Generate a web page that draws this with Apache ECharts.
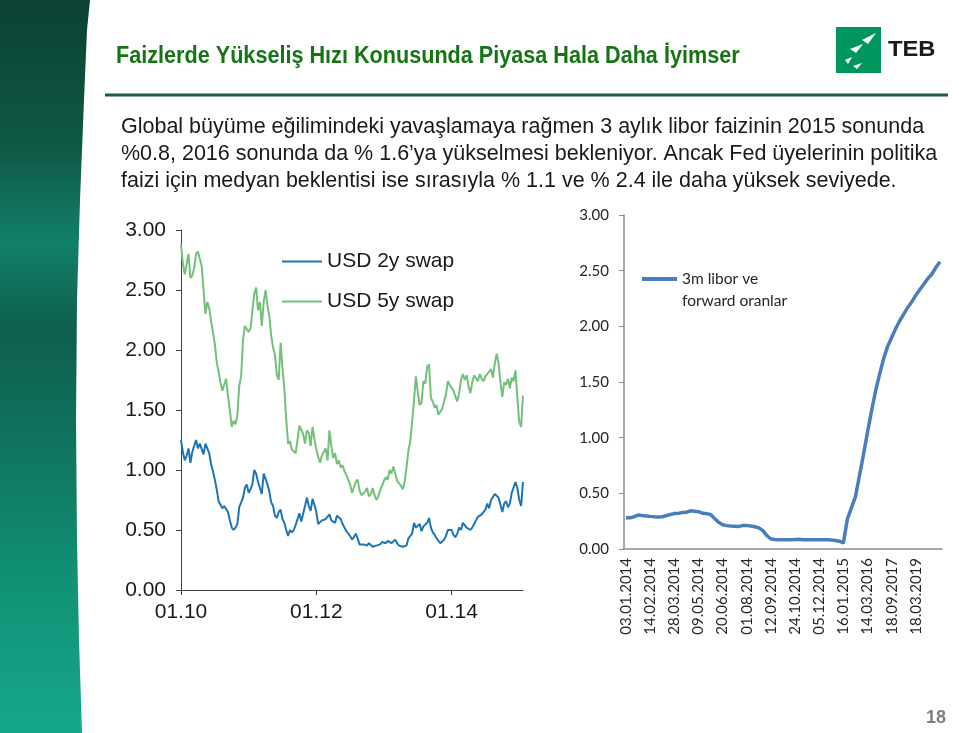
<!DOCTYPE html>
<html>
<head>
<meta charset="utf-8">
<style>
html,body{margin:0;padding:0;background:#fff;}
#chart{width:959px;height:733px;}
</style>
<script src="https://cdn.jsdelivr.net/npm/echarts@6/dist/echarts.min.js"></script>
</head>
<body>
<div id="chart"></div>
<script>
// ---------- DATA ----------
var titleText = 'Faizlerde Yükseliş Hızı Konusunda Piyasa Hala Daha İyimser';
var bodyLines = [
  'Global büyüme eğilimindeki yavaşlamaya rağmen 3 aylık libor faizinin 2015 sonunda',
  '%0.8, 2016 sonunda da % 1.6’ya yükselmesi bekleniyor. Ancak Fed üyelerinin politika',
  'faizi için medyan beklentisi ise sırasıyla % 1.1 ve % 2.4 ile daha yüksek seviyede.'
];
var pageNumber = '18';

// Left chart: USD swap rates (dekad observations)
var swapDates = [
'01.01.2010','11.01.2010','21.01.2010','01.02.2010','11.02.2010','21.02.2010','01.03.2010','11.03.2010','21.03.2010','01.04.2010','11.04.2010','21.04.2010','01.05.2010','11.05.2010','21.05.2010','01.06.2010','11.06.2010','21.06.2010','01.07.2010','11.07.2010','21.07.2010','01.08.2010','11.08.2010','21.08.2010','01.09.2010','11.09.2010','21.09.2010','01.10.2010','11.10.2010','21.10.2010','01.11.2010','11.11.2010','21.11.2010','01.12.2010','11.12.2010','21.12.2010',
'01.01.2011','11.01.2011','21.01.2011','01.02.2011','11.02.2011','21.02.2011','01.03.2011','11.03.2011','21.03.2011','01.04.2011','11.04.2011','21.04.2011','01.05.2011','11.05.2011','21.05.2011','01.06.2011','11.06.2011','21.06.2011','01.07.2011','11.07.2011','21.07.2011','01.08.2011','11.08.2011','21.08.2011','01.09.2011','11.09.2011','21.09.2011','01.10.2011','11.10.2011','21.10.2011','01.11.2011','11.11.2011','21.11.2011','01.12.2011','11.12.2011','21.12.2011',
'01.01.2012','11.01.2012','21.01.2012','01.02.2012','11.02.2012','21.02.2012','01.03.2012','11.03.2012','21.03.2012','01.04.2012','11.04.2012','21.04.2012','01.05.2012','11.05.2012','21.05.2012','01.06.2012','11.06.2012','21.06.2012','01.07.2012','11.07.2012','21.07.2012','01.08.2012','11.08.2012','21.08.2012','01.09.2012','11.09.2012','21.09.2012','01.10.2012','11.10.2012','21.10.2012','01.11.2012','11.11.2012','21.11.2012','01.12.2012','11.12.2012','21.12.2012',
'01.01.2013','11.01.2013','21.01.2013','01.02.2013','11.02.2013','21.02.2013','01.03.2013','11.03.2013','21.03.2013','01.04.2013','11.04.2013','21.04.2013','01.05.2013','11.05.2013','21.05.2013','01.06.2013','11.06.2013','21.06.2013','01.07.2013','11.07.2013','21.07.2013','01.08.2013','11.08.2013','21.08.2013','01.09.2013','11.09.2013','21.09.2013','01.10.2013','11.10.2013','21.10.2013','01.11.2013','11.11.2013','21.11.2013','01.12.2013','11.12.2013','21.12.2013',
'01.01.2014','11.01.2014','21.01.2014','01.02.2014','11.02.2014','21.02.2014','01.03.2014','11.03.2014','21.03.2014','01.04.2014','11.04.2014','21.04.2014','01.05.2014','11.05.2014','21.05.2014','01.06.2014','11.06.2014','21.06.2014','01.07.2014','11.07.2014','21.07.2014','01.08.2014','11.08.2014','21.08.2014','01.09.2014','11.09.2014','21.09.2014','01.10.2014','11.10.2014','21.10.2014','01.11.2014','11.11.2014','21.11.2014','01.12.2014','11.12.2014','21.12.2014',
'01.01.2015','11.01.2015','21.01.2015'
];
var swap2y = [
1.25,1.15,1.08,1.12,1.18,1.06,1.15,1.20,1.25,1.18,
1.22,1.21,1.13,1.22,1.22,1.14,1.05,0.99,0.92,0.84,
0.74,0.71,0.68,0.70,0.71,0.65,0.58,0.52,0.50,0.52,
0.55,0.69,0.70,0.77,0.85,0.88,0.81,0.84,0.88,1.00,
0.97,0.90,0.85,0.80,0.97,0.96,0.88,0.82,0.73,0.70,
0.62,0.60,0.65,0.67,0.59,0.56,0.50,0.45,0.50,0.48,
0.50,0.54,0.59,0.64,0.57,0.58,0.70,0.77,0.70,0.66,
0.76,0.71,0.65,0.55,0.54,0.58,0.58,0.59,0.60,0.63,
0.58,0.59,0.56,0.62,0.63,0.59,0.55,0.52,0.49,0.48,
0.45,0.42,0.44,0.47,0.43,0.38,0.37,0.38,0.38,0.37,
0.39,0.38,0.36,0.37,0.37,0.36,0.38,0.40,0.40,0.39,
0.41,0.40,0.39,0.39,0.42,0.39,0.37,0.37,0.36,0.35,
0.37,0.43,0.44,0.47,0.56,0.52,0.51,0.55,0.49,0.53,
0.52,0.56,0.60,0.52,0.48,0.46,0.43,0.41,0.39,0.38,
0.42,0.45,0.50,0.51,0.50,0.46,0.44,0.47,0.52,0.50,
0.56,0.55,0.52,0.53,0.50,0.52,0.55,0.58,0.61,0.62,
0.63,0.63,0.67,0.72,0.68,0.75,0.74,0.80,0.81,0.77,
0.71,0.65,0.72,0.74,0.69,0.72,0.81,0.81,0.90,0.85,
0.75,0.70,0.90
];
var swap5y = [
2.88,2.72,2.63,2.62,2.80,2.60,2.62,2.68,2.80,2.82,
2.76,2.70,2.50,2.30,2.40,2.35,2.24,2.15,2.05,1.90,
1.82,1.73,1.66,1.71,1.76,1.62,1.50,1.36,1.41,1.38,
1.46,1.70,1.78,2.08,2.20,2.20,2.15,2.18,2.17,2.47,
2.52,2.33,2.40,2.20,2.40,2.50,2.37,2.28,2.12,2.02,
1.96,1.79,1.75,2.06,1.85,1.68,1.42,1.22,1.24,1.17,
1.18,1.14,1.25,1.37,1.38,1.30,1.22,1.33,1.31,1.20,
1.36,1.26,1.17,1.11,1.06,1.12,1.11,1.18,1.08,1.33,
1.20,1.10,1.14,1.05,1.08,1.02,1.04,0.99,0.96,0.96,
0.88,0.81,0.82,0.90,0.92,0.83,0.79,0.79,0.82,0.85,
0.78,0.80,0.85,0.79,0.75,0.78,0.83,0.87,0.91,0.94,
0.92,1.00,0.97,1.03,0.97,0.91,0.89,0.87,0.84,0.90,
1.02,1.16,1.24,1.40,1.58,1.78,1.65,1.54,1.56,1.74,
1.72,1.86,1.88,1.60,1.57,1.52,1.54,1.46,1.47,1.51,
1.57,1.63,1.74,1.71,1.72,1.66,1.66,1.57,1.64,1.75,
1.80,1.75,1.79,1.70,1.64,1.73,1.79,1.78,1.74,1.80,
1.76,1.74,1.78,1.80,1.80,1.84,1.77,1.89,1.97,1.89,
1.73,1.61,1.73,1.71,1.76,1.68,1.77,1.74,1.83,1.60,
1.40,1.36,1.62
];
var swapNames = ['USD 2y swap', 'USD 5y swap'];

// Right chart: 3m libor and forward rates
var liborDates = [
'03.01.2014','10.01.2014','17.01.2014','24.01.2014','31.01.2014','07.02.2014','14.02.2014','21.02.2014','28.02.2014','07.03.2014',
'14.03.2014','21.03.2014','28.03.2014','04.04.2014','11.04.2014','18.04.2014','25.04.2014','02.05.2014','09.05.2014','16.05.2014',
'23.05.2014','30.05.2014','06.06.2014','13.06.2014','20.06.2014','27.06.2014','04.07.2014','11.07.2014','18.07.2014','25.07.2014',
'01.08.2014','08.08.2014','15.08.2014','22.08.2014','29.08.2014','05.09.2014','12.09.2014','19.09.2014','26.09.2014','03.10.2014',
'10.10.2014','17.10.2014','24.10.2014','31.10.2014','07.11.2014','14.11.2014','21.11.2014','28.11.2014','05.12.2014','12.12.2014',
'19.12.2014','26.12.2014','02.01.2015','09.01.2015','16.01.2015',
'16.02.2015','16.03.2015','16.06.2015','16.09.2015','16.12.2015',
'14.03.2016','14.06.2016','14.09.2016','14.12.2016','14.03.2017','14.06.2017',
'18.09.2017','18.12.2017','18.03.2018','18.06.2018','18.09.2018','18.12.2018',
'18.03.2019','18.06.2019','18.09.2019','18.12.2019','18.03.2020','18.06.2020','18.09.2020'
];
var liborFwd = [
0.28,0.28,0.29,0.305,0.30,0.297,0.293,0.29,0.288,0.29,
0.30,0.31,0.318,0.32,0.328,0.33,0.343,0.34,0.335,0.322,
0.318,0.31,0.275,0.24,0.218,0.21,0.207,0.205,0.203,0.21,
0.21,0.207,0.20,0.19,0.165,0.12,0.09,0.085,0.083,0.082,
0.082,0.083,0.085,0.087,0.083,0.082,0.082,0.082,0.082,0.082,
0.082,0.08,0.077,0.07,0.055,
0.27,0.37,0.47,0.66,0.85,
1.05,1.24,1.42,1.57,1.71,1.82,
1.90,1.98,2.05,2.11,2.17,2.22,
2.28,2.33,2.38,2.43,2.47,2.53,2.58
];
var liborName = '3m libor ve\nforward oranlar';

// ---------- CHART ----------
var chart = echarts.init(document.getElementById('chart'), null, {renderer: 'canvas'});

var stripGradient = new echarts.graphic.LinearGradient(0, 0, 0, 1, [
  {offset: 0, color: '#0b4234'},
  {offset: 0.2, color: '#0f5846'},
  {offset: 0.33, color: '#12806a'},
  {offset: 0.45, color: '#0e5f4d'},
  {offset: 0.6, color: '#0f735e'},
  {offset: 0.8, color: '#119276'},
  {offset: 1, color: '#16a78a'}
]);

var leftFont = 'Liberation Sans, Arial, sans-serif';
var rightFont = 'Lato, Open Sans, sans-serif';

var option = {
  animation: false,
  backgroundColor: '#ffffff',
  graphic: [
    {type: 'polygon', z: 0, shape: {points: [[0,0],[90,0],[87,30],[84,100],[80,200],[77,300],[76,420],[77,540],[79,640],[82,733],[0,733]]},
      style: {fill: stripGradient}},
    {type: 'text', x: 116, y: 45, scaleX: 0.94, style: {text: titleText, font: 'bold 23px "Liberation Sans", Arial, sans-serif', fill: '#157515'}},
    {type: 'line', shape: {x1: 105, y1: 95, x2: 948, y2: 95}, style: {stroke: '#1d5c45', lineWidth: 3}},
    {type: 'rect', shape: {x: 836, y: 27, width: 45, height: 46}, style: {fill: '#00965e'}},
    {type: 'polygon', shape: {points: [[862,40],[876,33],[868,44]]}, style: {fill: '#fff'}},
    {type: 'polygon', shape: {points: [[850,49],[863,44],[856,53]]}, style: {fill: '#fff'}},
    {type: 'polygon', shape: {points: [[845,60],[852,57],[848,64]]}, style: {fill: '#fff'}},
    {type: 'polygon', shape: {points: [[853,66],[862,63],[857,69]]}, style: {fill: '#fff'}},
    {type: 'text', x: 888, y: 39, scaleX: 1.08, style: {text: 'TEB', font: 'bold 22px "Liberation Sans", Arial, sans-serif', fill: '#1a1a1a'}},
    {type: 'text', x: 121, y: 114, style: {text: bodyLines.join('\n'), font: '21.5px "Liberation Sans", Arial, sans-serif', lineHeight: 27, fill: '#1a1a1a'}},
    {type: 'text', x: 926, y: 709, style: {text: pageNumber, font: 'bold 18px "Liberation Sans", Arial, sans-serif', fill: '#808080'}}
  ],
  legend: [
    {data: swapNames, orient: 'vertical', left: 282, top: 251, padding: 0, icon: 'rect', itemWidth: 40, itemHeight: 2, itemGap: 19,
      textStyle: {fontFamily: leftFont, fontSize: 21, color: '#1a1a1a'}},
    {data: [liborName], left: 642, top: 246, padding: 0, icon: 'rect', itemWidth: 35, itemHeight: 4,
      formatter: function (name) { return ' \n' + name; },
      textStyle: {fontFamily: rightFont, fontSize: 15.5, color: '#262626', lineHeight: 22}}
  ],
  grid: [
    {left: 181, top: 230, width: 342, height: 360},
    {left: 624, top: 215, width: 318, height: 334}
  ],
  xAxis: [
    {type: 'category', gridIndex: 0, data: swapDates, boundaryGap: false,
      axisLine: {lineStyle: {color: '#404040', width: 1}},
      axisTick: {interval: 71, length: 5, lineStyle: {color: '#404040'}},
      axisLabel: {interval: 71, margin: 12, fontFamily: leftFont, fontSize: 21, color: '#1a1a1a',
        formatter: function (v) { return v.slice(3, 5) + '.' + v.slice(8, 10); }}},
    {type: 'category', gridIndex: 1, data: liborDates, boundaryGap: true,
      axisLine: {lineStyle: {color: '#8c8c8c', width: 1.5}},
      axisTick: {interval: 0, length: 5, lineStyle: {color: '#8c8c8c'}},
      axisLabel: {interval: function (i) { return i % 6 === 0 && i < liborDates.length - 1; },
        rotate: 90, margin: 9, fontFamily: rightFont, fontSize: 15, color: '#262626'}}
  ],
  yAxis: [
    {type: 'value', gridIndex: 0, min: 0, max: 3, interval: 0.5,
      axisLine: {show: true, lineStyle: {color: '#404040', width: 1}},
      axisTick: {show: true, length: 5, lineStyle: {color: '#404040'}},
      splitLine: {show: false},
      axisLabel: {margin: 15, fontFamily: leftFont, fontSize: 21, color: '#1a1a1a', formatter: function (v) { return v.toFixed(2); }}},
    {type: 'value', gridIndex: 1, min: 0, max: 3, interval: 0.5,
      axisLine: {show: true, lineStyle: {color: '#8c8c8c', width: 1.5}},
      axisTick: {show: true, length: 5, lineStyle: {color: '#8c8c8c'}},
      splitLine: {show: false},
      axisLabel: {margin: 15, fontFamily: rightFont, fontSize: 15, color: '#262626', formatter: function (v) { return v.toFixed(2); }}}
  ],
  series: [
    {type: 'line', name: swapNames[0], xAxisIndex: 0, yAxisIndex: 0, data: swap2y, showSymbol: false,
      lineStyle: {color: '#1c75b5', width: 2}, itemStyle: {color: '#1c75b5'}},
    {type: 'line', name: swapNames[1], xAxisIndex: 0, yAxisIndex: 0, data: swap5y, showSymbol: false,
      lineStyle: {color: '#72c07a', width: 2}, itemStyle: {color: '#72c07a'}},
    {type: 'line', name: liborName, xAxisIndex: 1, yAxisIndex: 1, data: liborFwd, showSymbol: false,
      lineStyle: {color: '#4a7ebb', width: 3.5}, itemStyle: {color: '#4a7ebb'}}
  ]
};
chart.setOption(option);
</script>
</body>
</html>
